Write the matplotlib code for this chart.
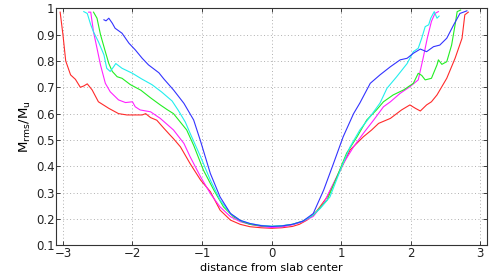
import matplotlib
matplotlib.use("Agg")
import matplotlib.pyplot as plt

# distance from slab center / M_rms/M_u for five curves
red_x = [-3.04, -3.0, -2.96, -2.89, -2.82, -2.75, -2.70, -2.65, -2.58, -2.49, -2.34, -2.20, -2.08, -1.98, -1.86, -1.81, -1.74, -1.65, -1.55, -1.46, -1.41, -1.31, -1.17, -1.02, -0.88, -0.74, -0.59, -0.45, -0.31, -0.15, 0.0, 0.15, 0.30, 0.40, 0.51, 0.65, 0.80, 0.99, 1.13, 1.32, 1.44, 1.54, 1.71, 1.87, 1.99, 2.07, 2.14, 2.23, 2.30, 2.38, 2.52, 2.64, 2.74, 2.78, 2.83]
red_y = [0.985, 0.90, 0.80, 0.747, 0.73, 0.70, 0.705, 0.713, 0.69, 0.645, 0.62, 0.60, 0.595, 0.595, 0.595, 0.60, 0.585, 0.575, 0.545, 0.519, 0.505, 0.474, 0.41, 0.348, 0.304, 0.234, 0.196, 0.180, 0.171, 0.167, 0.165, 0.167, 0.172, 0.180, 0.196, 0.230, 0.284, 0.386, 0.462, 0.512, 0.538, 0.563, 0.582, 0.614, 0.633, 0.62, 0.61, 0.633, 0.645, 0.671, 0.734, 0.81, 0.886, 0.975, 0.985]

magenta_x = [-2.63, -2.60, -2.56, -2.51, -2.46, -2.39, -2.32, -2.20, -2.10, -2.00, -1.96, -1.89, -1.74, -1.60, -1.41, -1.26, -1.17, -1.02, -0.88, -0.74, -0.59, -0.45, -0.31, -0.15, 0.0, 0.15, 0.30, 0.45, 0.60, 0.75, 0.89, 1.03, 1.18, 1.32, 1.47, 1.61, 1.71, 1.85, 1.99, 2.11, 2.18, 2.24, 2.30, 2.35, 2.40]
magenta_y = [0.985, 0.985, 0.91, 0.848, 0.785, 0.715, 0.683, 0.652, 0.642, 0.645, 0.626, 0.614, 0.607, 0.582, 0.538, 0.487, 0.436, 0.36, 0.297, 0.246, 0.209, 0.190, 0.180, 0.172, 0.168, 0.170, 0.178, 0.190, 0.21, 0.26, 0.335, 0.41, 0.474, 0.525, 0.576, 0.626, 0.645, 0.677, 0.702, 0.728, 0.81, 0.886, 0.95, 0.98, 0.987]

green_x = [-2.56, -2.51, -2.46, -2.39, -2.34, -2.29, -2.22, -2.15, -2.03, -1.88, -1.74, -1.60, -1.50, -1.41, -1.22, -1.12, -0.98, -0.83, -0.69, -0.55, -0.42, -0.31, -0.15, 0.0, 0.15, 0.30, 0.45, 0.60, 0.80, 0.94, 1.08, 1.23, 1.37, 1.51, 1.61, 1.75, 1.90, 2.04, 2.11, 2.16, 2.21, 2.30, 2.38, 2.40, 2.45, 2.52, 2.59, 2.64, 2.67, 2.72]
green_y = [0.985, 0.962, 0.90, 0.835, 0.79, 0.76, 0.74, 0.734, 0.71, 0.689, 0.66, 0.633, 0.615, 0.60, 0.538, 0.48, 0.386, 0.31, 0.246, 0.209, 0.190, 0.180, 0.174, 0.172, 0.174, 0.180, 0.192, 0.215, 0.272, 0.36, 0.45, 0.512, 0.576, 0.614, 0.645, 0.671, 0.69, 0.715, 0.753, 0.745, 0.728, 0.734, 0.785, 0.804, 0.787, 0.797, 0.86, 0.937, 0.987, 0.993]

cyan_x = [-2.70, -2.65, -2.60, -2.56, -2.49, -2.41, -2.37, -2.32, -2.27, -2.24, -2.15, -2.00, -1.87, -1.72, -1.58, -1.43, -1.34, -1.24, -1.17, -1.02, -0.88, -0.74, -0.59, -0.45, -0.31, -0.15, 0.0, 0.15, 0.30, 0.45, 0.58, 0.70, 0.84, 0.99, 1.13, 1.27, 1.42, 1.56, 1.66, 1.80, 1.95, 2.04, 2.11, 2.16, 2.21, 2.26, 2.29, 2.34, 2.38, 2.41]
cyan_y = [0.987, 0.98, 0.937, 0.91, 0.873, 0.823, 0.772, 0.76, 0.778, 0.79, 0.772, 0.753, 0.732, 0.71, 0.682, 0.648, 0.612, 0.568, 0.525, 0.436, 0.348, 0.272, 0.221, 0.195, 0.183, 0.176, 0.173, 0.175, 0.180, 0.192, 0.212, 0.240, 0.284, 0.386, 0.474, 0.538, 0.589, 0.64, 0.696, 0.74, 0.79, 0.835, 0.848, 0.886, 0.93, 0.937, 0.962, 0.987, 0.962, 0.97]

blue_x = [-2.41, -2.38, -2.34, -2.29, -2.25, -2.15, -2.05, -1.96, -1.86, -1.77, -1.62, -1.55, -1.41, -1.26, -1.12, -1.02, -0.88, -0.74, -0.59, -0.45, -0.31, -0.15, 0.0, 0.15, 0.30, 0.45, 0.60, 0.75, 0.89, 1.03, 1.18, 1.27, 1.42, 1.56, 1.71, 1.85, 1.95, 2.04, 2.14, 2.23, 2.33, 2.42, 2.52, 2.62, 2.71, 2.81]
blue_y = [0.956, 0.952, 0.962, 0.943, 0.924, 0.905, 0.867, 0.842, 0.81, 0.785, 0.755, 0.732, 0.69, 0.639, 0.576, 0.495, 0.373, 0.284, 0.221, 0.195, 0.183, 0.175, 0.172, 0.174, 0.180, 0.192, 0.221, 0.31, 0.41, 0.512, 0.60, 0.64, 0.715, 0.747, 0.778, 0.804, 0.81, 0.829, 0.845, 0.835, 0.854, 0.86, 0.886, 0.937, 0.98, 0.99]

x_ticks = [-3, -2, -1, 0, 1, 2, 3]
y_ticks = [0.1, 0.2, 0.3, 0.4, 0.5, 0.6, 0.7, 0.8, 0.9, 1]
y_ticklabels = ["0.1", "0.2", "0.3", "0.4", "0.5", "0.6", "0.7", "0.8", "0.9", "1"]

plt.rcParams['font.family'] = ['DejaVu Sans']
plt.rcParams['mathtext.fontset'] = 'dejavusans'

fig = plt.figure(figsize=(4.91, 2.73), dpi=100)
ax = fig.add_axes([0.114, 0.101, 0.878, 0.869])

series = [
    (red_x, red_y, '#ff2a2a'),
    (magenta_x, magenta_y, '#ff22ff'),
    (green_x, green_y, '#22ee22'),
    (cyan_x, cyan_y, '#22eeee'),
    (blue_x, blue_y, '#3333ff'),
]
for xs, ys, c in series:
    ax.plot(xs, ys, color=c, lw=0.8)

ax.set_xlim(-3.1, 3.1)
ax.set_ylim(0.1, 1.0)
ax.set_xticks(x_ticks)
ax.set_xticklabels([str(t).replace('-', '\u2212') for t in x_ticks])
ax.set_yticks(y_ticks)
ax.set_yticklabels(y_ticklabels)
ax.grid(True, color='#b0b0b0', linestyle=(0, (1, 2.5)), linewidth=0.7)
ax.tick_params(direction='in', top=True, right=True, labelsize=8.5, length=3, width=0.6, colors='#222222')
ax.tick_params(axis='x', pad=0.8)
ax.tick_params(axis='y', pad=1)
for s in ax.spines.values():
    s.set_color('#333333')
    s.set_linewidth(0.8)
ax.set_xlabel('distance from slab center', fontsize=8, va='bottom')
ax.xaxis.set_label_coords(0.5, -0.1165)
ax.set_ylabel(r'$\mathrm{M_{rms}/M_u}$', fontsize=9.5, labelpad=2)

fig.savefig('out.png', dpi=100)
